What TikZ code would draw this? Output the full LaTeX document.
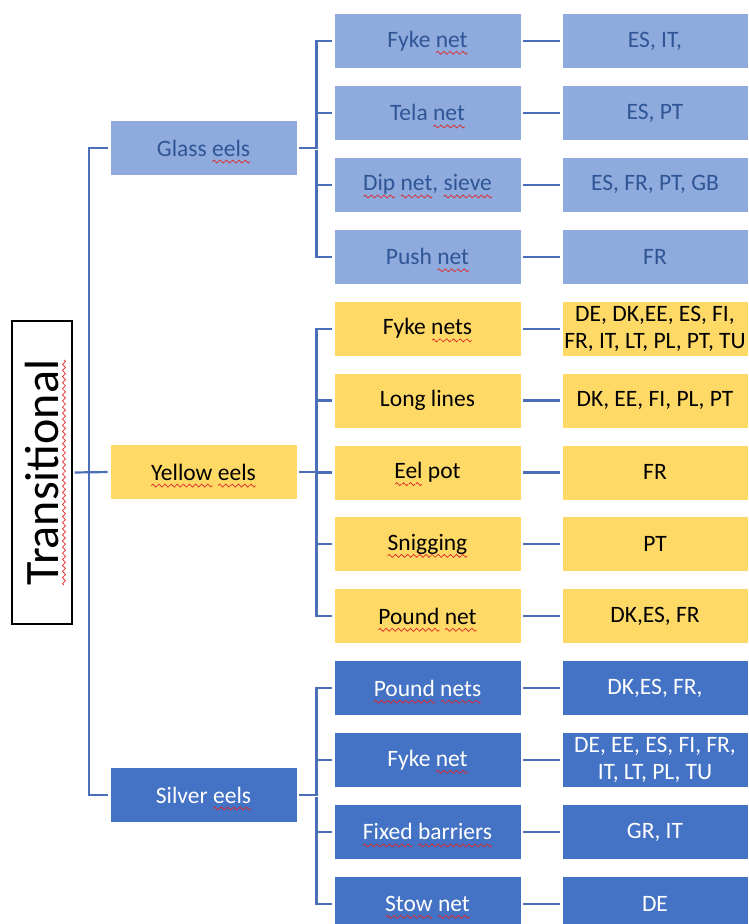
\documentclass[tikz,border=0pt]{standalone}
\usepackage{fontspec}
\setmainfont{Carlito}
\definecolor{glassfill}{HTML}{8FAADC}
\definecolor{glassink}{HTML}{2F5597}
\definecolor{yellowfill}{HTML}{FFD966}
\definecolor{silverfill}{HTML}{4472C4}
\definecolor{linkblue}{HTML}{4A6FB8}
\definecolor{spellred}{HTML}{E02828}

% red wavy underline, as the spell checker left it
\newsavebox\wavebox
\newsavebox\spellbox
\AtBeginDocument{\sbox\wavebox{\begin{pgfpicture}
  \pgfsetlinewidth{0.7pt}\pgfsetstrokecolor{spellred}
  \pgfpathmoveto{\pgfpoint{0pt}{0pt}}
  \pgfpathsine{\pgfpoint{1.5pt}{1.5pt}}
  \pgfpathcosine{\pgfpoint{1.5pt}{-1.5pt}}
  \pgfpathsine{\pgfpoint{1.5pt}{-1.5pt}}
  \pgfpathcosine{\pgfpoint{1.5pt}{1.5pt}}
  \pgfusepath{stroke}
  \pgfresetboundingbox
  \pgfpathrectangle{\pgfpoint{0pt}{-1.8pt}}{\pgfpoint{6pt}{3.6pt}}
  \pgfusepath{use as bounding box}
  \pgfsetbaseline{0pt}
\end{pgfpicture}}}
\newcommand\spell[1]{\sbox\spellbox{#1}%
  \rlap{\smash{\raisebox{-5.5pt}{\hbox to \wd\spellbox{\xleaders\copy\wavebox\hfill}}}}%
  \usebox\spellbox}

\begin{document}
\begin{tikzpicture}[x=1pt, y=-1pt,
  box/.style={draw=white, line width=0.8pt, minimum width=187pt,
    minimum height=55pt, inner sep=2pt, align=center,
    font=\fontsize{23.5}{27}\selectfont},
  glassbox/.style={box, fill=glassfill, text=glassink},
  yellowbox/.style={box, fill=yellowfill, text=black},
  silverbox/.style={box, fill=silverfill, text=white},
  stagebox/.style={draw=black, line width=1.4pt, fill=white, rotate=90,
    minimum width=303pt, minimum height=60pt, inner sep=0pt,
    font=\fontsize{48}{52}\selectfont},
  link/.style={draw=linkblue, line width=2.2pt, shorten <=2pt, shorten >=2pt},
]
\useasboundingbox (0,0) rectangle (748,924);
\clip (0,0) rectangle (748,924);

\node[stagebox] (trans) at (42,472.5) {\spell{Transitional}};

\node[glassbox]  (glass)  at (203.5,148) {Glass \spell{eels}};
\node[yellowbox] (yellow) at (203.5,472) {\spell{Yellow} \spell{eels}};
\node[silverbox] (silver) at (203.5,795) {Silver \spell{eels}};

% gears
\node[glassbox]  (gfyke)   at (427.5, 41.0) {Fyke \spell{net}};
\node[glassbox]  (gtela)   at (427.5,112.9) {Tela \spell{net}};
\node[glassbox]  (gdip)    at (427.5,184.8) {\spell{Dip} \spell{net}, \spell{sieve}};
\node[glassbox]  (gpush)   at (427.5,256.7) {Push \spell{net}};
\node[yellowbox] (yfyke)   at (427.5,328.6) {Fyke \spell{nets}};
\node[yellowbox] (ylong)   at (427.5,400.5) {Long lines};
\node[yellowbox] (ypot)    at (427.5,472.4) {\spell{Eel} pot};
\node[yellowbox] (ysnig)   at (427.5,544.3) {\spell{Snigging}};
\node[yellowbox] (ypound)  at (427.5,616.2) {\spell{Pound} \spell{net}};
\node[silverbox] (spound)  at (427.5,688.1) {\spell{Pound} \spell{nets}};
\node[silverbox] (sfyke)   at (427.5,760.0) {Fyke \spell{net}};
\node[silverbox] (sfixed)  at (427.5,831.9) {\spell{Fixed} \spell{barriers}};
\node[silverbox] (sstow)   at (427.5,903.8) {\spell{Stow} \spell{net}};

% countries
\node[glassbox, minimum width=186pt]  (gfykecc)  at (655, 41.0) {ES, IT,};
\node[glassbox, minimum width=186pt]  (gtelacc)  at (655,112.9) {ES, PT};
\node[glassbox, minimum width=186pt]  (gdipcc)   at (655,184.8) {ES, FR, PT, GB};
\node[glassbox, minimum width=186pt]  (gpushcc)  at (655,256.7) {FR};
\node[yellowbox, minimum width=186pt] (yfykecc)  at (655,328.6) {DE, DK,EE, ES, FI,\\FR, IT, LT, PL, PT, TU};
\node[yellowbox, minimum width=186pt] (ylongcc)  at (655,400.5) {DK, EE, FI, PL, PT};
\node[yellowbox, minimum width=186pt] (ypotcc)   at (655,472.4) {FR};
\node[yellowbox, minimum width=186pt] (ysnigcc)  at (655,544.3) {PT};
\node[yellowbox, minimum width=186pt] (ypoundcc) at (655,616.2) {DK,ES, FR};
\node[silverbox, minimum width=186pt] (spoundcc) at (655,688.1) {DK,ES, FR,};
\node[silverbox, minimum width=186pt] (sfykecc)  at (655,760.0) {DE, EE, ES, FI, FR,\\IT, LT, PL, TU};
\node[silverbox, minimum width=186pt] (sfixedcc) at (655,831.9) {GR, IT};
\node[silverbox, minimum width=186pt] (sstowcc)  at (655,903.8) {DE};

% trunk
\draw[link] (trans.south) -- (yellow.west);
\draw[link] (glass.west) -- ++(-21,0) |- (silver.west);

% brackets
\draw[link] (glass.east) -- ++(19,0) |- (gfyke.west);
\draw[link] (glass.east) ++(19,0) |- (gpush.west);
\draw[link] (glass.east) ++(19,0) |- (gtela.west);
\draw[link] (glass.east) ++(19,0) |- (gdip.west);
\draw[link] (yellow.east) -- ++(19,0) |- (yfyke.west);
\draw[link] (yellow.east) ++(19,0) |- (ypound.west);
\draw[link] (yellow.east) ++(19,0) |- (ylong.west);
\draw[link] (yellow.east) ++(19,0) |- (ypot.west);
\draw[link] (yellow.east) ++(19,0) |- (ysnig.west);
\draw[link] (silver.east) -- ++(19,0) |- (spound.west);
\draw[link] (silver.east) ++(19,0) |- (sstow.west);
\draw[link] (silver.east) ++(19,0) |- (sfyke.west);
\draw[link] (silver.east) ++(19,0) |- (sfixed.west);

% gear to country
\draw[link] (gfyke)  -- (gfykecc);
\draw[link] (gtela)  -- (gtelacc);
\draw[link] (gdip)   -- (gdipcc);
\draw[link] (gpush)  -- (gpushcc);
\draw[link] (yfyke)  -- (yfykecc);
\draw[link] (ylong)  -- (ylongcc);
\draw[link] (ypot)   -- (ypotcc);
\draw[link] (ysnig)  -- (ysnigcc);
\draw[link] (ypound) -- (ypoundcc);
\draw[link] (spound) -- (spoundcc);
\draw[link] (sfyke)  -- (sfykecc);
\draw[link] (sfixed) -- (sfixedcc);
\draw[link] (sstow)  -- (sstowcc);
\end{tikzpicture}
\end{document}
